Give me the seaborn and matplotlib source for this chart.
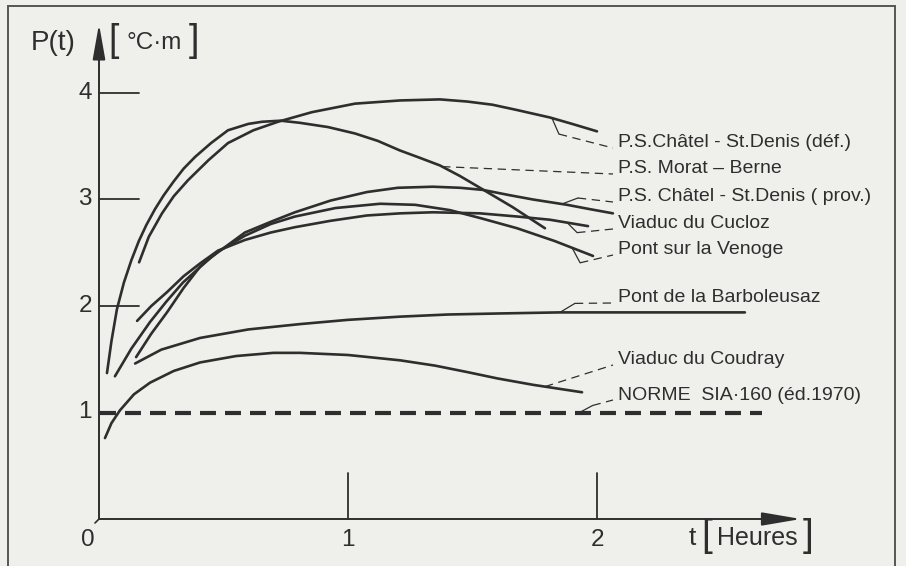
import numpy as np
import pandas as pd
import matplotlib
matplotlib.use("Agg")
import matplotlib.pyplot as plt
import seaborn as sns

# Valeurs : t en heures, P(t) en degC.m
t_def = [0.161, 0.20, 0.253, 0.30, 0.357, 0.44, 0.518, 0.62, 0.719, 0.855,
         1.028, 1.209, 1.369, 1.478, 1.58, 1.679, 1.811, 1.90, 2.0]
p_def = [2.41, 2.65, 2.87, 3.03, 3.18, 3.37, 3.53, 3.65, 3.73, 3.82,
         3.90, 3.93, 3.94, 3.92, 3.89, 3.84, 3.77, 3.71, 3.64]

t_morat = [0.032, 0.05, 0.072, 0.10, 0.13, 0.16, 0.19, 0.225, 0.26, 0.30,
           0.34, 0.386, 0.45, 0.518, 0.60, 0.655, 0.73, 0.807, 0.92, 1.028,
           1.12, 1.209, 1.29, 1.369, 1.45, 1.53, 1.66, 1.791]
p_morat = [1.37, 1.67, 1.97, 2.22, 2.43, 2.61, 2.76, 2.91, 3.04, 3.17,
           3.29, 3.40, 3.53, 3.65, 3.71, 3.73, 3.74, 3.72, 3.68, 3.62,
           3.55, 3.46, 3.39, 3.32, 3.22, 3.11, 2.93, 2.73]

t_prov = [0.064, 0.13, 0.205, 0.27, 0.337, 0.446, 0.586, 0.70, 0.787, 0.93,
          1.076, 1.20, 1.341, 1.45, 1.542, 1.65, 1.743, 1.88, 1.97, 2.064]
p_prov = [1.34, 1.60, 1.85, 2.04, 2.22, 2.45, 2.69, 2.80, 2.88, 2.99,
          3.07, 3.11, 3.12, 3.11, 3.09, 3.04, 3.00, 2.95, 2.91, 2.87]

t_cucloz = [0.153, 0.21, 0.273, 0.34, 0.406, 0.478, 0.586, 0.69, 0.787, 0.93,
            1.076, 1.21, 1.341, 1.53, 1.68, 1.811, 1.964]
p_cucloz = [1.86, 2.00, 2.13, 2.28, 2.40, 2.52, 2.62, 2.69, 2.74, 2.80,
            2.85, 2.87, 2.88, 2.87, 2.84, 2.81, 2.75]

t_venoge = [0.149, 0.21, 0.273, 0.34, 0.406, 0.478, 0.586, 0.69, 0.787, 0.95,
            1.129, 1.27, 1.41, 1.54, 1.679, 1.83, 1.984]
p_venoge = [1.52, 1.74, 1.94, 2.17, 2.37, 2.51, 2.66, 2.77, 2.84, 2.92,
            2.96, 2.95, 2.90, 2.82, 2.73, 2.61, 2.47]

t_barbo = [0.145, 0.25, 0.406, 0.60, 0.807, 1.0, 1.209, 1.40, 1.61, 1.85,
           2.092, 2.35, 2.594]
p_barbo = [1.46, 1.59, 1.70, 1.78, 1.83, 1.87, 1.90, 1.92, 1.93, 1.94,
           1.94, 1.94, 1.94]

t_coudray = [0.024, 0.05, 0.084, 0.14, 0.205, 0.30, 0.406, 0.55, 0.70, 0.807,
             1.0, 1.209, 1.35, 1.478, 1.60, 1.743, 1.94]
p_coudray = [0.76, 0.90, 1.02, 1.17, 1.28, 1.39, 1.47, 1.53, 1.56, 1.56,
             1.54, 1.49, 1.44, 1.38, 1.32, 1.26, 1.19]

t_norme = [0.004, 2.663]
p_norme = [1.0, 1.0]

noms = ["P.S.Châtel - St.Denis (déf.)",
        "P.S. Morat – Berne",
        "P.S. Châtel - St.Denis ( prov.)",
        "Viaduc du Cucloz",
        "Pont sur la Venoge",
        "Pont de la Barboleusaz",
        "Viaduc du Coudray"]
nom_norme = "NORME  SIA·160 (éd.1970)"

yticks = [1, 2, 3, 4]
xticks = [1, 2]

series = [(t_def, p_def), (t_morat, p_morat), (t_prov, p_prov),
          (t_cucloz, p_cucloz), (t_venoge, p_venoge), (t_barbo, p_barbo),
          (t_coudray, p_coudray)]

df = pd.concat([pd.DataFrame({"t": t, "P": p, "pont": nom})
                for nom, (t, p) in zip(noms, series)], ignore_index=True)

# mise en page (pixels de l'image d'origine)
X0, Y0, SX, SY = 99, 519, 249.0, 106.5
W, H = 906, 566
INK = "#2e2e2e"
FOND = "#efefec"


def px(x, y):
    return (x - X0) / SX, (Y0 - y) / SY


sns.set_theme(style="white")
plt.rcParams["font.family"] = ["Liberation Sans", "DejaVu Sans"]
plt.rcParams["lines.scale_dashes"] = False

fig = plt.figure(figsize=(W / 100, H / 100), dpi=100, facecolor=FOND)
ax = fig.add_axes([0, 0, 1, 1])
ax.set_facecolor(FOND)
ax.set_xlim(-X0 / SX, (W - X0) / SX)
ax.set_ylim((Y0 - H) / SY, Y0 / SY)
ax.axis("off")

# cadre
fx0, fy0 = px(8, 6)
fx1, fy1 = px(895, 600)
ax.plot([fx0, fx0, fx1, fx1], [fy1, fy0, fy0, fy1], color="#555", lw=1.4,
        solid_joinstyle="miter")

# axes avec fleches
ax.annotate("", xy=(0, px(0, 24)[1]), xytext=(0, 0),
            arrowprops=dict(arrowstyle="-|>,head_length=1.8,head_width=0.32",
                            color=INK, lw=1.4, shrinkA=0, shrinkB=0))
ax.annotate("", xy=(px(801, 0)[0], 0), xytext=(0, 0),
            arrowprops=dict(arrowstyle="-|>,head_length=2.0,head_width=0.34",
                            color=INK, lw=1.4, shrinkA=0, shrinkB=0))
a, b = px(95, 523)
ax.plot([a, 0], [b, 0], color=INK, lw=1.2)

# graduations
tick_len_x = px(139, 0)[0]
for v in yticks:
    if v > 1:
        ax.plot([0, tick_len_x], [v, v], color=INK, lw=1.3)
    ax.text(px(92, 0)[0], v, str(v), ha="right", va="center",
            fontsize=17.5, color=INK)
tick_len_y = px(0, 473)[1]
for v in xticks:
    ax.plot([v, v], [0, tick_len_y], color=INK, lw=1.3)
    ax.text(v, px(0, 540)[1], str(v), ha="center", va="center",
            fontsize=17.5, color=INK)
ax.text(px(88, 0)[0], px(0, 540)[1], "0", ha="center", va="center",
        fontsize=17.5, color=INK)

# courbes
sns.lineplot(data=df, x="t", y="P", units="pont", estimator=None, sort=False,
             color=INK, linewidth=1.9, legend=False, ax=ax)
sns.lineplot(x=t_norme, y=p_norme, color=INK, linewidth=3.0,
             linestyle=(0, (11.5, 6.5)), legend=False, ax=ax)

# etiquettes et traits de rappel
lab_x = px(618, 0)[0]
end_x = px(613, 0)[0]
leaders = [  # (t d'accroche, coude dx px, coude dy px, y centre etiquette px)
    (1.819, 7, 16, 143),
    (1.378, None, None, 169),
    (1.859, 16, -6, 197),
    (1.880, 10, 10, 224),
    (1.900, 8, 15, 250),
    (1.851, 15, -9, 298),
    (1.791, None, None, 360),
]
for nom, (t, p), (ta, dx, dy, ly) in zip(noms, series, leaders):
    ya = np.interp(ta, t, p)
    xs, ys = [ta], [ya]
    if dx is not None:
        xe, ye = ta + dx / SX, ya - dy / SY
        ax.plot([ta, xe], [ya, ye], color=INK, lw=0.9)
        xs, ys = [xe], [ye]
    ax.plot([xs[0], end_x], [ys[0], px(0, ly + 5)[1]], color=INK, lw=0.9,
            linestyle=(0, (6, 4)))
    ax.text(lab_x, px(0, ly)[1], nom, ha="left", va="center", fontsize=14,
            color=INK)

ta = 1.93
xe, ye = ta + 13 / SX, 1.0 + 7 / SY
ax.plot([ta, xe], [1.0, ye], color=INK, lw=0.9)
ax.plot([xe, end_x], [ye, px(0, 400)[1]], color=INK, lw=0.9,
        linestyle=(0, (6, 4)))
ax.text(lab_x, px(0, 395)[1], nom_norme, ha="left", va="center", fontsize=14,
        color=INK)

# titres des axes
ax.text(px(31, 0)[0], px(0, 43)[1], "P(t)", ha="left", va="center",
        fontsize=20, color=INK)
ax.text(px(114, 0)[0], px(0, 41)[1], "[", ha="center", va="center",
        fontsize=27, color=INK, fontweight="light")
ax.text(px(127, 0)[0], px(0, 43)[1], "°C·m", ha="left", va="center",
        fontsize=17.5, color=INK)
ax.text(px(194, 0)[0], px(0, 41)[1], "]", ha="center", va="center",
        fontsize=27, color=INK, fontweight="light")

ax.text(px(692, 0)[0], px(0, 538)[1], "t", ha="center", va="center",
        fontsize=19, color=INK)
ax.text(px(707, 0)[0], px(0, 536)[1], "[", ha="center", va="center",
        fontsize=28, color=INK)
ax.text(px(717, 0)[0], px(0, 538)[1], "Heures", ha="left", va="center",
        fontsize=18, color=INK)
ax.text(px(808, 0)[0], px(0, 536)[1], "]", ha="center", va="center",
        fontsize=28, color=INK)

fig.savefig("out.png", dpi=100, facecolor=FOND)
